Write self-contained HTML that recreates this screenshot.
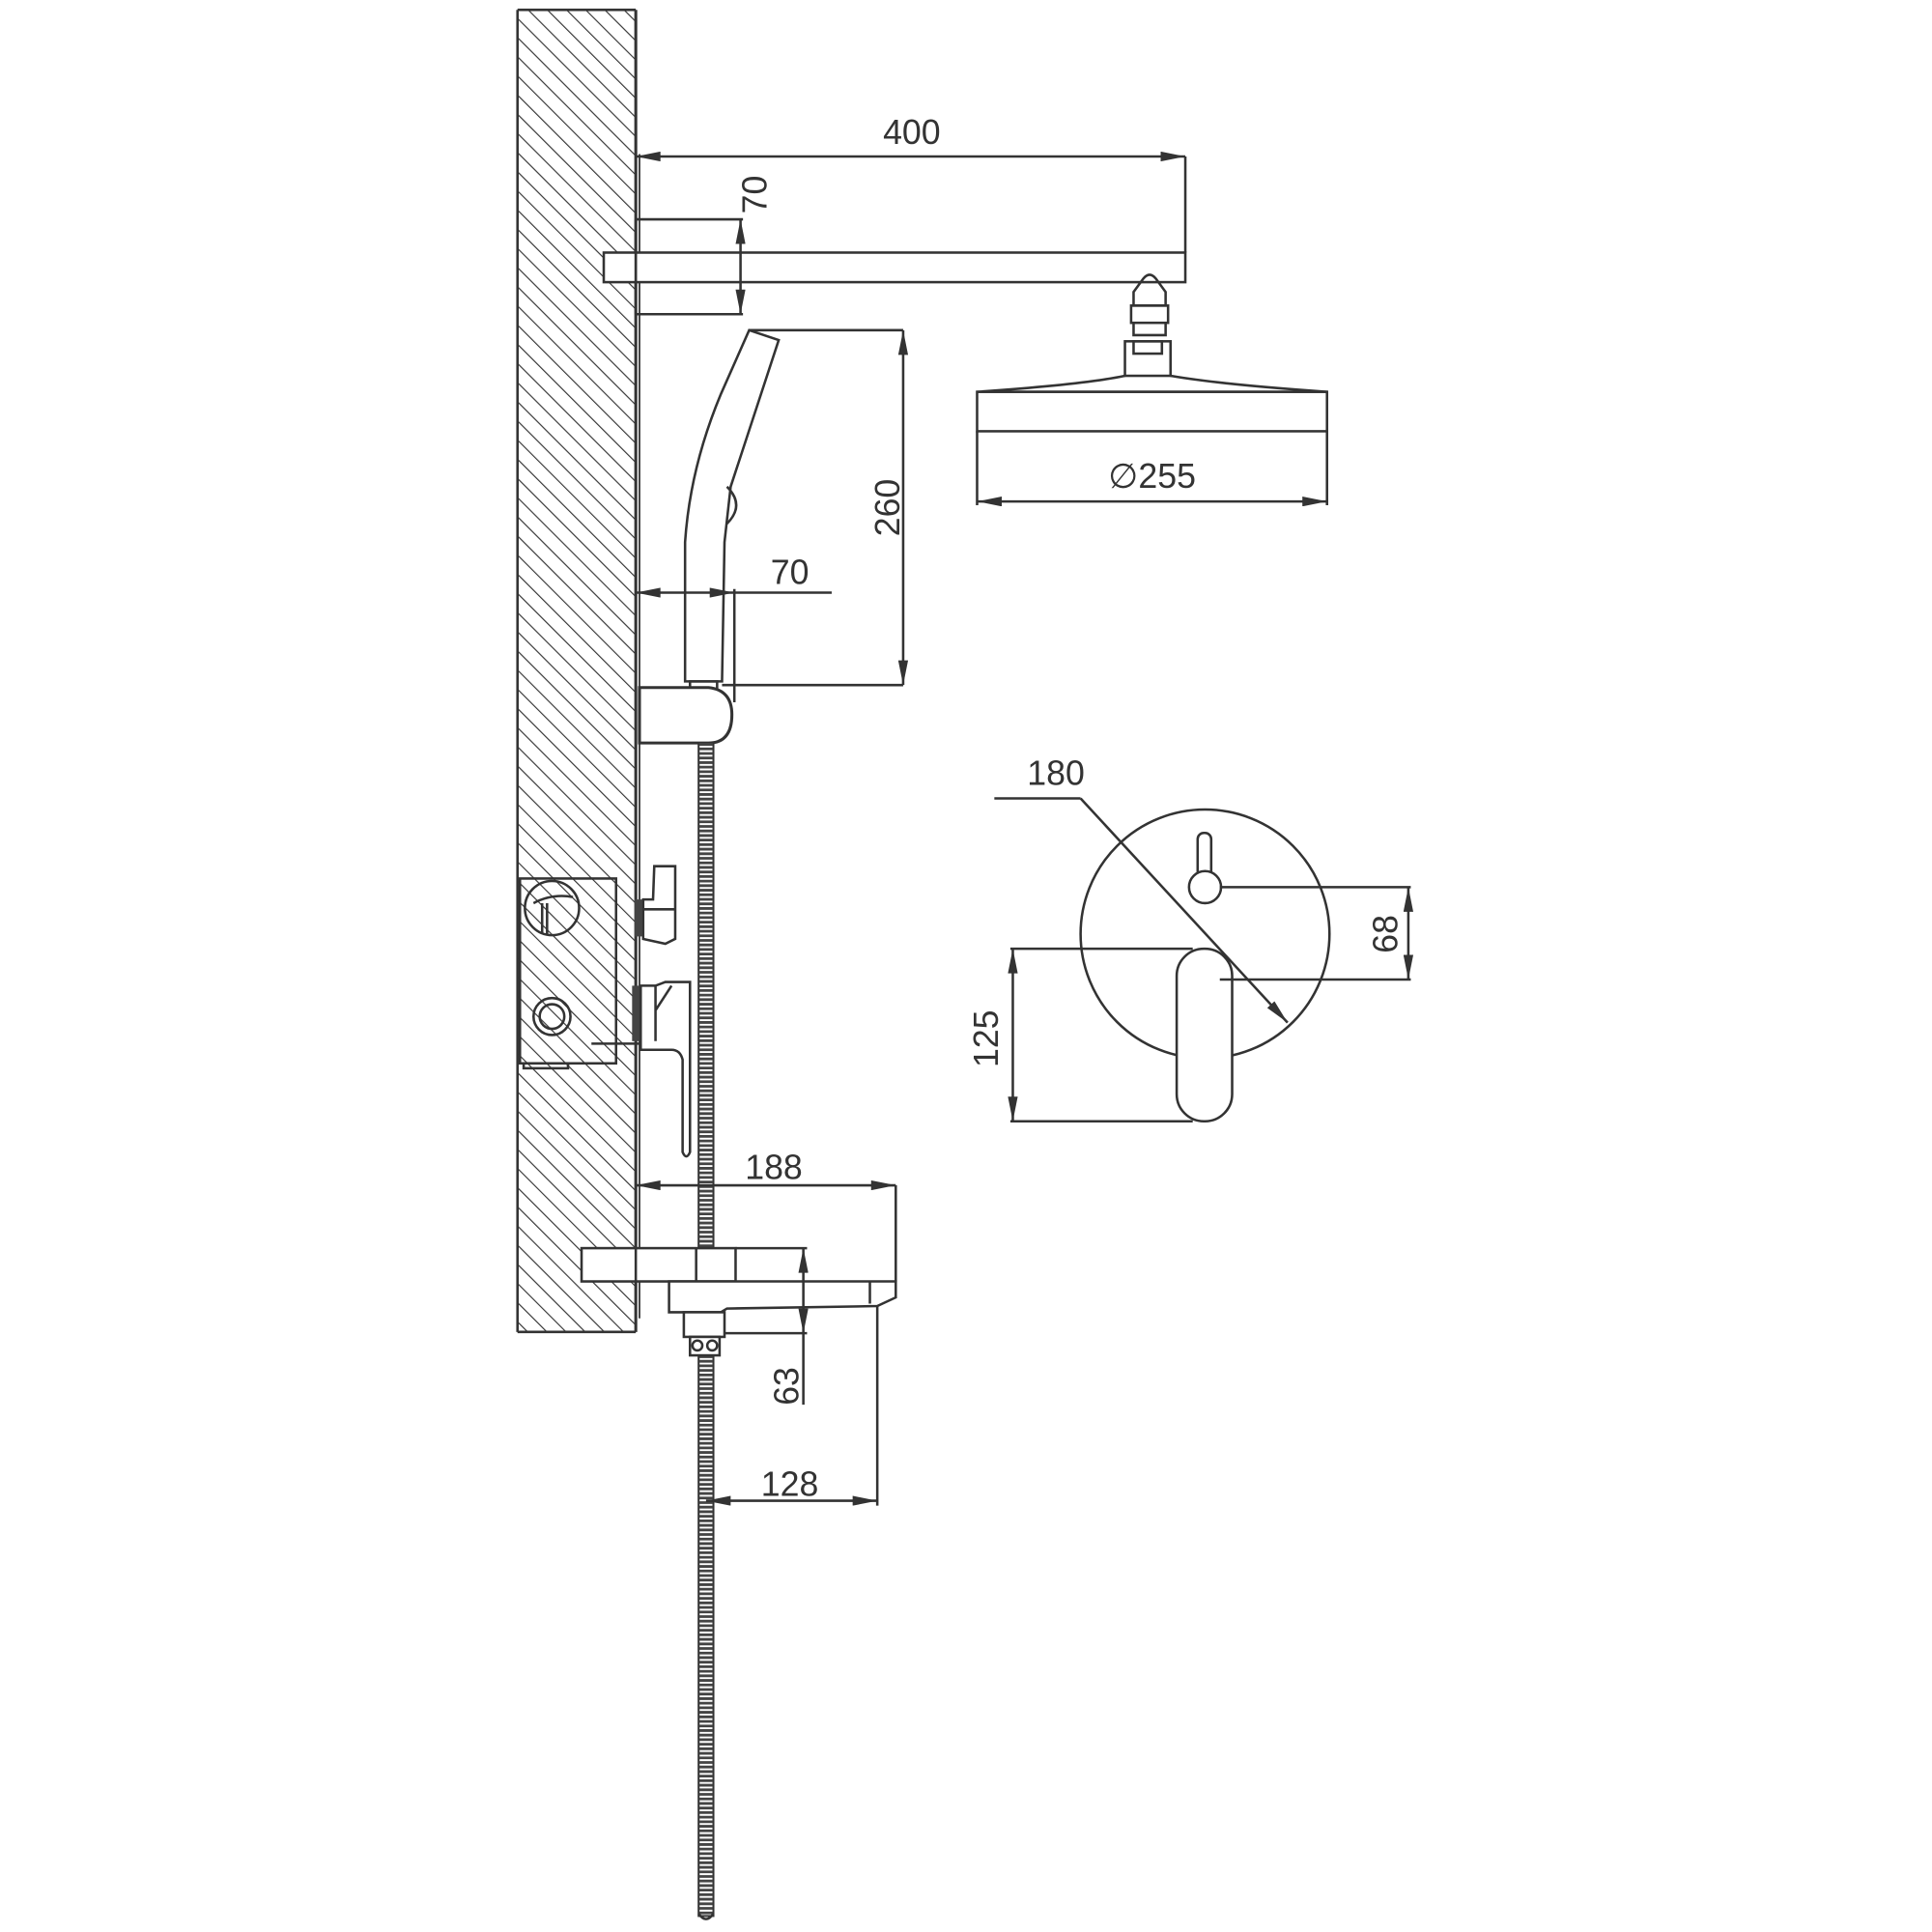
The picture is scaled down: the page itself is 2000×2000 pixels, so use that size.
<!DOCTYPE html>
<html><head><meta charset="utf-8"><style>
html,body{margin:0;padding:0;background:#fff;}
svg{display:block;}
text{font-family:"Liberation Sans",sans-serif;font-size:28px;fill:#333;}
</style></head><body>
<svg width="2000" height="2000" viewBox="0 0 1568 1568" xmlns="http://www.w3.org/2000/svg">
<defs>
<pattern id="h" patternUnits="userSpaceOnUse" width="11" height="11" patternTransform="rotate(-45)">
<line x1="0" y1="0" x2="0" y2="11" stroke="#333" stroke-width="1.8"/>
</pattern>
<marker id="a" viewBox="0 0 20 8" refX="20" refY="4" markerWidth="22" markerHeight="8" orient="auto-start-reverse" markerUnits="userSpaceOnUse">
<path d="M0,0 L20,4 L0,8 Z" fill="#333"/>
</marker>
</defs>
<g stroke="#333" fill="none" stroke-width="2">
<rect x="420" y="8" width="96" height="1073" fill="url(#h)" stroke="none"/>
<line x1="420" y1="8" x2="420" y2="1081"/>
<line x1="420" y1="8" x2="516" y2="8"/>
<line x1="420" y1="1081" x2="516" y2="1081"/>
<line x1="516" y1="8" x2="516" y2="1081" stroke-width="2.4"/>
<line x1="519" y1="125" x2="519" y2="1070" stroke-width="1.4"/>

<line x1="516" y1="127" x2="962" y2="127" marker-start="url(#a)" marker-end="url(#a)"/>
<line x1="962" y1="127" x2="962" y2="205"/>
<rect x="516" y="205" width="446" height="24" fill="#fff"/>
<rect x="490" y="205" width="26" height="24" fill="#fff"/>
<line x1="516" y1="178" x2="603" y2="178"/>
<line x1="516" y1="255" x2="603" y2="255"/>
<line x1="516" y1="178" x2="516" y2="255"/>
<line x1="601" y1="178" x2="601" y2="255" marker-start="url(#a)" marker-end="url(#a)"/>
<path d="M920,237 L928,226 Q933,220 938,226 L946,237 L946,248 L920,248 Z"/>
<rect x="918" y="248" width="30" height="14"/>
<path d="M920,262 L920,272 L946,272 L946,262"/>
<rect x="913" y="277" width="37" height="28"/>
<rect x="920" y="277" width="23" height="10"/>
<path d="M913,305 Q880,312 793,318 L1077,318 Q990,312 950,305"/>
<rect x="793" y="318" width="284" height="32"/>
<line x1="793" y1="350" x2="793" y2="410"/>
<line x1="1077" y1="350" x2="1077" y2="410"/>
<line x1="793" y1="407" x2="1077" y2="407" marker-start="url(#a)" marker-end="url(#a)"/>

<path d="M608,268 L632,276 L593,395 L588,440 L586,553 L556,553 L556,440 Q560,380 585,320 Z" fill="#fff"/>
<path d="M590,395 Q605,410 590,425" />
<rect x="560" y="553" width="22" height="6"/>
<line x1="608" y1="268" x2="733" y2="268"/>
<line x1="586" y1="556" x2="733" y2="556"/>
<line x1="733" y1="268" x2="733" y2="556" marker-start="url(#a)" marker-end="url(#a)"/>
<line x1="516" y1="481" x2="596" y2="481" marker-start="url(#a)" marker-end="url(#a)"/>
<line x1="596" y1="481" x2="675" y2="481"/>
<line x1="596" y1="478" x2="596" y2="570"/>
<path d="M519,558 L575,558 Q594,560 594,580 Q594,603 575,603 L519,603 Z" fill="#fff" stroke-width="2.4"/>

<rect x="567" y="603" width="12" height="410" fill="#fff" stroke-width="1.6"/>
<line x1="573" y1="603" x2="573" y2="1013" stroke="#444" stroke-width="11" stroke-dasharray="2.2 1.5"/>
<rect x="567" y="1100" width="12" height="455" fill="#fff" stroke-width="1.6"/>
<line x1="573" y1="1100" x2="573" y2="1555" stroke="#444" stroke-width="11" stroke-dasharray="2.2 1.5"/>
<path d="M567,1553 Q573,1562 579,1553"/>

<rect x="422" y="713" width="78" height="150"/>
<circle cx="448" cy="737" r="22"/>
<path d="M433,733 Q448,725 465,728 M440,733 L440,758 M444,733 L444,758"/>
<circle cx="448" cy="825" r="15"/>
<circle cx="448" cy="825" r="10"/>
<rect x="425" y="863" width="36" height="4"/>
<line x1="480" y1="847" x2="555" y2="847"/>
<rect x="515" y="730" width="6" height="30" fill="#444" stroke="none"/>
<path d="M522,730 L530,730 L531,703 L548,703 L548,762 L540,766 L522,762 Z" fill="#fff"/>
<line x1="522" y1="738" x2="548" y2="738"/>
<rect x="513" y="800" width="6" height="45" fill="#444" stroke="none"/>
<path d="M520,800 L532,800 L540,797 L560,797 L560,935 Q557,942 554,935 L554,860 Q552,852 545,852 L520,852 Z" fill="#fff"/>
<path d="M532,800 L532,845 M532,820 L545,800"/>

<line x1="516" y1="962" x2="727" y2="962" marker-start="url(#a)" marker-end="url(#a)"/>
<line x1="727" y1="962" x2="727" y2="1040"/>
<rect x="472" y="1013" width="125" height="27" fill="#fff"/>
<line x1="516" y1="1013" x2="516" y2="1040"/>
<line x1="565" y1="1013" x2="565" y2="1040"/>
<line x1="597" y1="1013" x2="655" y2="1013"/>
<path d="M543,1040 L727,1040 L727,1053 L712,1060 L590,1062 L585,1065 L543,1065 Z" fill="#fff"/>
<line x1="706" y1="1040" x2="706" y2="1058"/>
<rect x="555" y="1065" width="33" height="20" fill="#fff"/>
<rect x="560" y="1085" width="24" height="15" fill="#fff"/>
<circle cx="566" cy="1092" r="4"/><circle cx="578" cy="1092" r="4"/>
<line x1="588" y1="1082" x2="655" y2="1082"/>
<line x1="652" y1="1013" x2="652" y2="1082" marker-start="url(#a)" marker-end="url(#a)"/>
<line x1="652" y1="1082" x2="652" y2="1140"/>
<line x1="712" y1="1060" x2="712" y2="1222"/>
<line x1="573" y1="1218" x2="712" y2="1218" marker-start="url(#a)" marker-end="url(#a)"/>

<circle cx="978" cy="758" r="101"/>
<rect x="972" y="676" width="11" height="36" rx="5" fill="#fff"/>
<circle cx="978" cy="720" r="13" fill="#fff"/>
<rect x="955" y="770" width="45" height="140" rx="22" fill="#fff"/>
<line x1="807" y1="648" x2="877" y2="648"/>
<line x1="877" y1="648" x2="1045" y2="830" marker-end="url(#a)"/>
<line x1="990" y1="720" x2="1145" y2="720"/>
<line x1="990" y1="795" x2="1145" y2="795"/>
<line x1="1143" y1="720" x2="1143" y2="795" marker-start="url(#a)" marker-end="url(#a)"/>
<line x1="820" y1="770" x2="968" y2="770"/>
<line x1="820" y1="910" x2="968" y2="910"/>
<line x1="822" y1="770" x2="822" y2="910" marker-start="url(#a)" marker-end="url(#a)"/>
</g>

<text x="740" y="117" text-anchor="middle">400</text>
<text transform="translate(622,158) rotate(-90)" text-anchor="middle">70</text>
<text x="935" y="396" text-anchor="middle">∅255</text>
<text transform="translate(730,412) rotate(-90)" text-anchor="middle">260</text>
<text x="641" y="474" text-anchor="middle">70</text>
<text x="857" y="637" text-anchor="middle">180</text>
<text transform="translate(1134,758) rotate(-90)" text-anchor="middle">68</text>
<text transform="translate(810,843) rotate(-90)" text-anchor="middle">125</text>
<text x="628" y="957" text-anchor="middle">188</text>
<text transform="translate(648,1125) rotate(-90)" text-anchor="middle">63</text>
<text x="641" y="1214" text-anchor="middle">128</text>
</svg>
</body></html>
